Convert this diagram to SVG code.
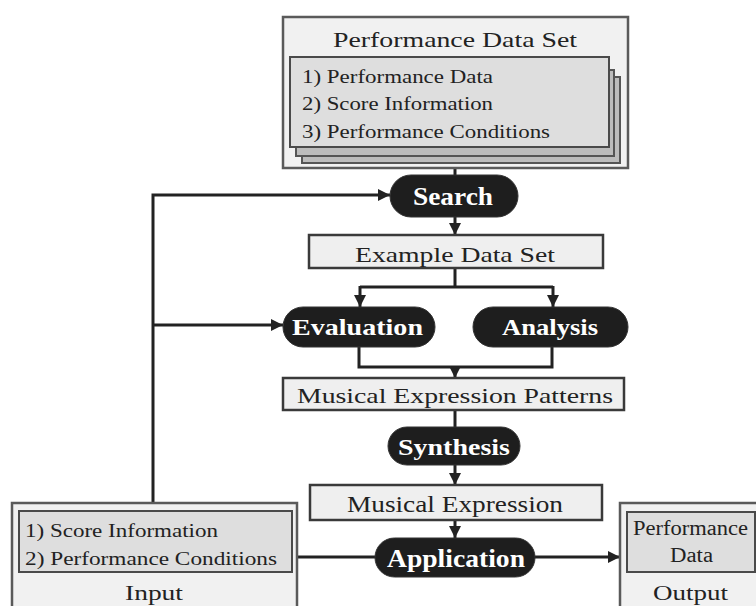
<svg xmlns="http://www.w3.org/2000/svg" width="756" height="606" viewBox="0 0 756 606">
  <defs>
    <marker id="arrow" viewBox="0 0 10 10" refX="10" refY="5" markerWidth="4" markerHeight="4" orient="auto" markerUnits="strokeWidth">
      <path d="M0,0 L10,5 L0,10 Z" fill="#222"/>
    </marker>
    <style>
      .outer { fill: #f1f1f1; stroke: #5a5a5a; stroke-width: 2.5; }
      .inner { fill: #dedede; stroke: #4a4a4a; stroke-width: 2; }
      .back  { fill: #bcbcbc; stroke: #555; stroke-width: 2; }
      .box   { fill: #efefef; stroke: #3a3a3a; stroke-width: 2.5; }
      .pill  { fill: #1e1e1e; stroke: #333; stroke-width: 1; }
      .txt   { font-family: "Liberation Serif", "Times New Roman", serif; fill: #222; }
      .ptxt  { font-family: "Liberation Serif", "Times New Roman", serif; font-weight: bold; fill: #fff; }
      .wire  { fill: none; stroke: #222; stroke-width: 3; }
      .arr   { marker-end: url(#arrow); }
    </style>
  </defs>

  <!-- connectors -->
  <g id="connectors">
    <path class="wire" d="M455,168 V176"/>
    <path class="wire arr" d="M455,217 V235"/>
    <path class="wire" d="M455,268 V287 M360,287 H553"/>
    <path class="wire arr" d="M360,286 V307"/>
    <path class="wire arr" d="M553,286 V307"/>
    <path class="wire" d="M359,347 V367 H552 V347"/>
    <path class="wire arr" d="M455,366 V378"/>
    <path class="wire" d="M455,410 V428"/>
    <path class="wire arr" d="M455,465 V485"/>
    <path class="wire arr" d="M455,520 V538"/>
    <path class="wire arr" d="M153,503 V195 H390"/>
    <path class="wire arr" d="M152,325 H283"/>
    <path class="wire" d="M297,557 H376"/>
    <path class="wire arr" d="M534,557 H620"/>
  </g>

  <!-- performance data set -->
  <g id="performance-data-set">
    <rect class="outer" x="283" y="17" width="345" height="151"/>
    <text class="txt" x="333" y="47" font-size="22" textLength="244" lengthAdjust="spacingAndGlyphs">Performance Data Set</text>
    <rect class="back" x="302" y="77" width="318" height="86"/>
    <rect class="back" x="296" y="70" width="318" height="86"/>
    <rect class="inner" x="290" y="57" width="319" height="90"/>
    <text class="txt" x="302" y="83" font-size="19" textLength="191" lengthAdjust="spacingAndGlyphs">1) Performance Data</text>
    <text class="txt" x="302" y="110" font-size="19" textLength="191" lengthAdjust="spacingAndGlyphs">2) Score Information</text>
    <text class="txt" x="302" y="138" font-size="19" textLength="248" lengthAdjust="spacingAndGlyphs">3) Performance Conditions</text>
  </g>

  <g id="search">
    <rect class="pill" x="390" y="175" width="128" height="42" rx="21"/>
    <text class="ptxt" x="413" y="205" font-size="26" textLength="80" lengthAdjust="spacingAndGlyphs">Search</text>
  </g>

  <g id="example-data-set">
    <rect class="box" x="309" y="235" width="294" height="33"/>
    <text class="txt" x="355" y="262" font-size="22" textLength="200" lengthAdjust="spacingAndGlyphs">Example Data Set</text>
  </g>

  <g id="evaluation">
    <rect class="pill" x="283" y="307" width="152" height="40" rx="20"/>
    <text class="ptxt" x="292" y="335" font-size="23" textLength="131" lengthAdjust="spacingAndGlyphs">Evaluation</text>
  </g>

  <g id="analysis">
    <rect class="pill" x="473" y="307" width="155" height="40" rx="20"/>
    <text class="ptxt" x="502" y="335" font-size="23" textLength="96" lengthAdjust="spacingAndGlyphs">Analysis</text>
  </g>

  <g id="musical-expression-patterns">
    <rect class="box" x="283" y="378" width="341" height="32"/>
    <text class="txt" x="297" y="403" font-size="22" textLength="316" lengthAdjust="spacingAndGlyphs">Musical Expression Patterns</text>
  </g>

  <g id="synthesis">
    <rect class="pill" x="388" y="427" width="132" height="38" rx="19"/>
    <text class="ptxt" x="398" y="455" font-size="24" textLength="112" lengthAdjust="spacingAndGlyphs">Synthesis</text>
  </g>

  <g id="musical-expression">
    <rect class="box" x="310" y="485" width="292" height="35"/>
    <text class="txt" x="347" y="512" font-size="23" textLength="216" lengthAdjust="spacingAndGlyphs">Musical Expression</text>
  </g>

  <g id="application">
    <rect class="pill" x="375" y="538" width="160" height="39" rx="19.5"/>
    <text class="ptxt" x="387" y="567" font-size="26" textLength="138" lengthAdjust="spacingAndGlyphs">Application</text>
  </g>

  <g id="input">
    <rect class="outer" x="12" y="503" width="285" height="120"/>
    <rect class="inner" x="19" y="511" width="273" height="61"/>
    <text class="txt" x="25" y="537" font-size="19" textLength="193" lengthAdjust="spacingAndGlyphs">1) Score Information</text>
    <text class="txt" x="25" y="565" font-size="19" textLength="252" lengthAdjust="spacingAndGlyphs">2) Performance Conditions</text>
    <text class="txt" x="125" y="600" font-size="22" textLength="58" lengthAdjust="spacingAndGlyphs">Input</text>
  </g>

  <g id="output">
    <rect class="outer" x="620" y="503" width="145" height="120"/>
    <rect class="inner" x="627" y="512" width="128" height="60"/>
    <text class="txt" x="633" y="535" font-size="20" textLength="115" lengthAdjust="spacingAndGlyphs">Performance</text>
    <text class="txt" x="670" y="562" font-size="20" textLength="43" lengthAdjust="spacingAndGlyphs">Data</text>
    <text class="txt" x="653" y="600" font-size="22" textLength="75" lengthAdjust="spacingAndGlyphs">Output</text>
  </g>
</svg>
